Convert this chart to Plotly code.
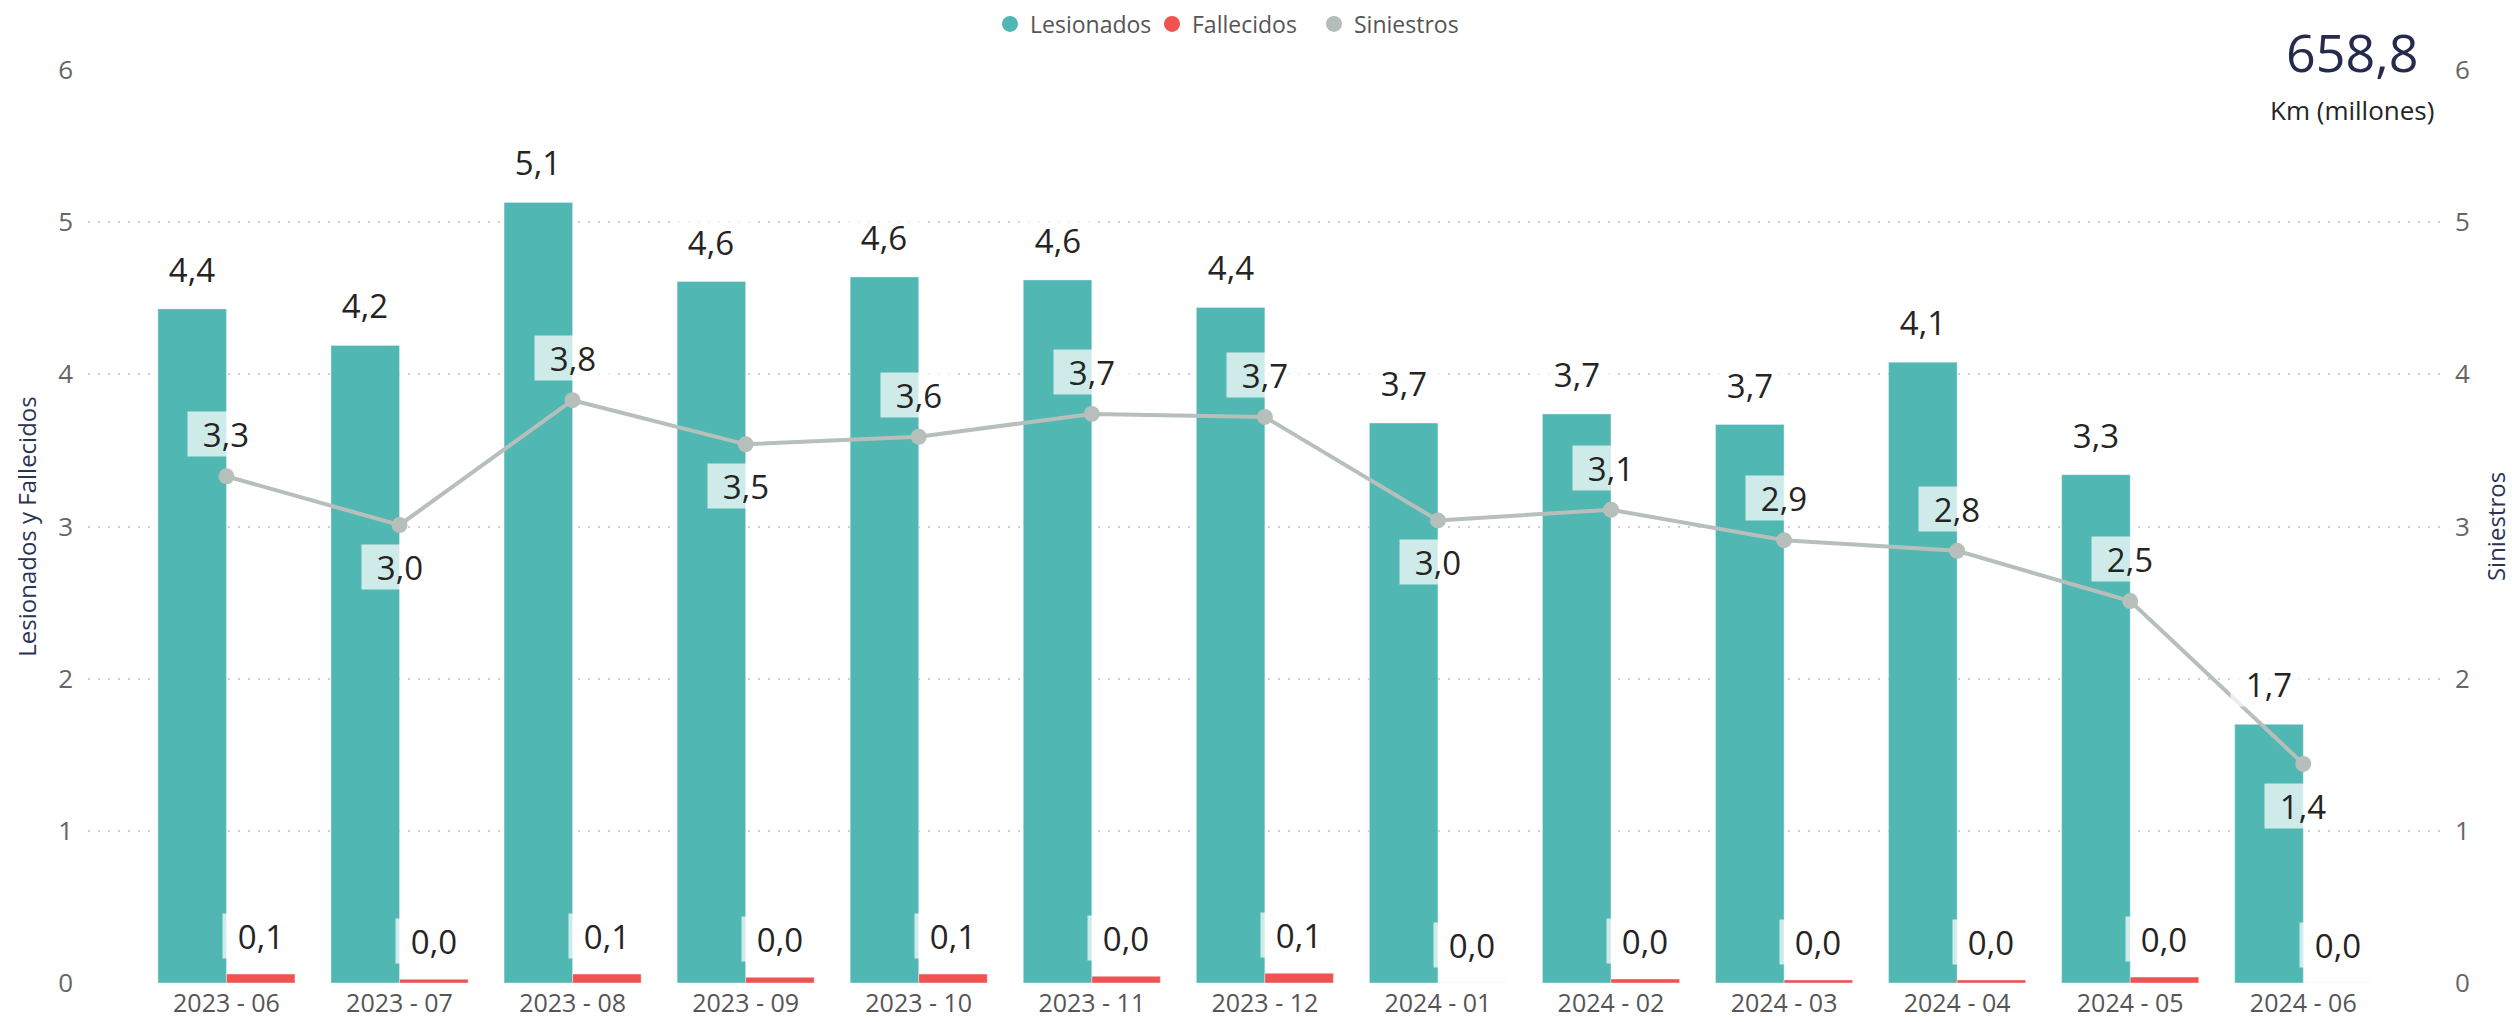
import plotly.graph_objects as go

months = ["2023 - 06", "2023 - 07", "2023 - 08", "2023 - 09", "2023 - 10", "2023 - 11", "2023 - 12",
          "2024 - 01", "2024 - 02", "2024 - 03", "2024 - 04", "2024 - 05", "2024 - 06"]
lesionados = [4.43, 4.19, 5.13, 4.61, 4.64, 4.62, 4.44, 3.68, 3.74, 3.67, 4.08, 3.34, 1.70]
fallecidos = [0.059, 0.024, 0.059, 0.037, 0.059, 0.044, 0.064, 0.0, 0.026, 0.020, 0.020, 0.039, 0.0]
siniestros = [3.33, 3.01, 3.83, 3.54, 3.59, 3.74, 3.72, 3.04, 3.11, 2.91, 2.84, 2.51, 1.44]
siniestros_label_below = [False, True, False, True, False, False, False, True, False, False, False, False, True]
kpi_value = "658,8"
kpi_label = "Km (millones)"

TEAL = "#50B7B2"
RED = "#F0524F"
GREY = "#B7BFBB"
FONT = "Open Sans"

idx = list(range(len(months)))

def fmt(v):
    return f"{v:.1f}".replace(".", ",")

fig = go.Figure()
fig.add_trace(go.Bar(x=idx, y=lesionados, name="Lesionados", marker_color=TEAL,
                     showlegend=False, hoverinfo="skip"))
fig.add_trace(go.Bar(x=idx, y=fallecidos, name="Fallecidos", marker_color=RED,
                     showlegend=False, hoverinfo="skip"))
fig.add_trace(go.Scatter(x=idx, y=siniestros, name="Siniestros", yaxis="y2", mode="lines+markers",
                         line=dict(color=GREY, width=4), marker=dict(color=GREY, size=16),
                         showlegend=False, hoverinfo="skip"))
# legend entries (circle markers)
for name, col in [("Lesionados", TEAL), ("Fallecidos", RED), ("Siniestros", "#B4BDB9")]:
    fig.add_trace(go.Scatter(x=[None], y=[None], mode="markers", name=name,
                             marker=dict(color=col, size=16)))

bargap = 0.208
off = (1 - bargap) / 4
box = "rgba(255,255,255,0.72)"
lab_font = dict(family=FONT, size=33, color="#252423")
ann = []
for i in idx:
    ann.append(dict(x=i - off, y=lesionados[i], xref="x", yref="y", text=fmt(lesionados[i]),
                    showarrow=False, yanchor="middle", yshift=40, font=lab_font,
                    bgcolor=box, width=74, height=42))
    ann.append(dict(x=i + off, y=fallecidos[i], xref="x", yref="y", text=fmt(fallecidos[i]),
                    showarrow=False, yanchor="middle", yshift=38, font=lab_font,
                    bgcolor=box, width=74, height=42))
    ann.append(dict(x=i, y=siniestros[i], xref="x", yref="y2", text=fmt(siniestros[i]),
                    showarrow=False, yanchor="middle", yshift=-42 if siniestros_label_below[i] else 42,
                    font=lab_font, bgcolor=box, width=74, height=42))

ann.append(dict(x=(2352 - 88) / 2352, y=(983 - 51) / 913, xref="paper", yref="paper",
                text=kpi_value, showarrow=False, xanchor="center", yanchor="middle",
                font=dict(family=FONT, size=52, color="#252B4D")))
ann.append(dict(x=(2352 - 88) / 2352, y=(983 - 110) / 913, xref="paper", yref="paper",
                text=kpi_label, showarrow=False, xanchor="center", yanchor="middle",
                font=dict(family=FONT, size=26, color="#252423")))

grid = dict(showgrid=True, gridcolor="#CFCFCF", gridwidth=2, griddash="2px,8px")

fig.update_layout(
    width=2512, height=1022,
    margin=dict(l=88, r=72, t=70, b=39, autoexpand=False),
    paper_bgcolor="white", plot_bgcolor="white",
    font=dict(family=FONT, color="#605E5C"),
    separators=",.",
    barmode="group", bargap=bargap, bargroupgap=0,
    annotations=ann,
    legend=dict(orientation="h", x=990 / 2512, xref="container", xanchor="left",
                y=1 - 24 / 1022, yref="container", yanchor="middle",
                font=dict(family=FONT, size=23, color="#555555"), itemsizing="trace",
                bgcolor="rgba(0,0,0,0)", tracegroupgap=0, itemwidth=30,
                entrywidth=117, entrywidthmode="pixels"),
    xaxis=dict(range=[-0.80, 12.79], tickvals=idx, ticktext=months, showgrid=False,
               showline=False, zeroline=False, ticks="", ticklabelstandoff=3, automargin=False,
               tickfont=dict(family=FONT, size=25, color="#555555")),
    yaxis=dict(range=[0, 6], dtick=1, zeroline=False, showline=False, ticks="",
               ticklabelstandoff=14, automargin=False,
               tickfont=dict(family=FONT, size=26, color="#666666"),
               title=dict(text="Lesionados y Fallecidos", standoff=14,
                          font=dict(family=FONT, size=24, color="#2B3356")),
               **grid),
    yaxis2=dict(range=[0, 6], dtick=1, overlaying="y", side="right", showgrid=False,
                zeroline=False, showline=False, ticks="", ticklabelstandoff=14, automargin=False,
                tickfont=dict(family=FONT, size=26, color="#666666"),
                title=dict(text="Siniestros", standoff=21,
                           font=dict(family=FONT, size=24, color="#2B3356"))),
)

fig.write_html("out.html", config={"displayModeBar": False},
               post_script="document.body.style.margin='0';document.body.style.overflow='hidden';")
